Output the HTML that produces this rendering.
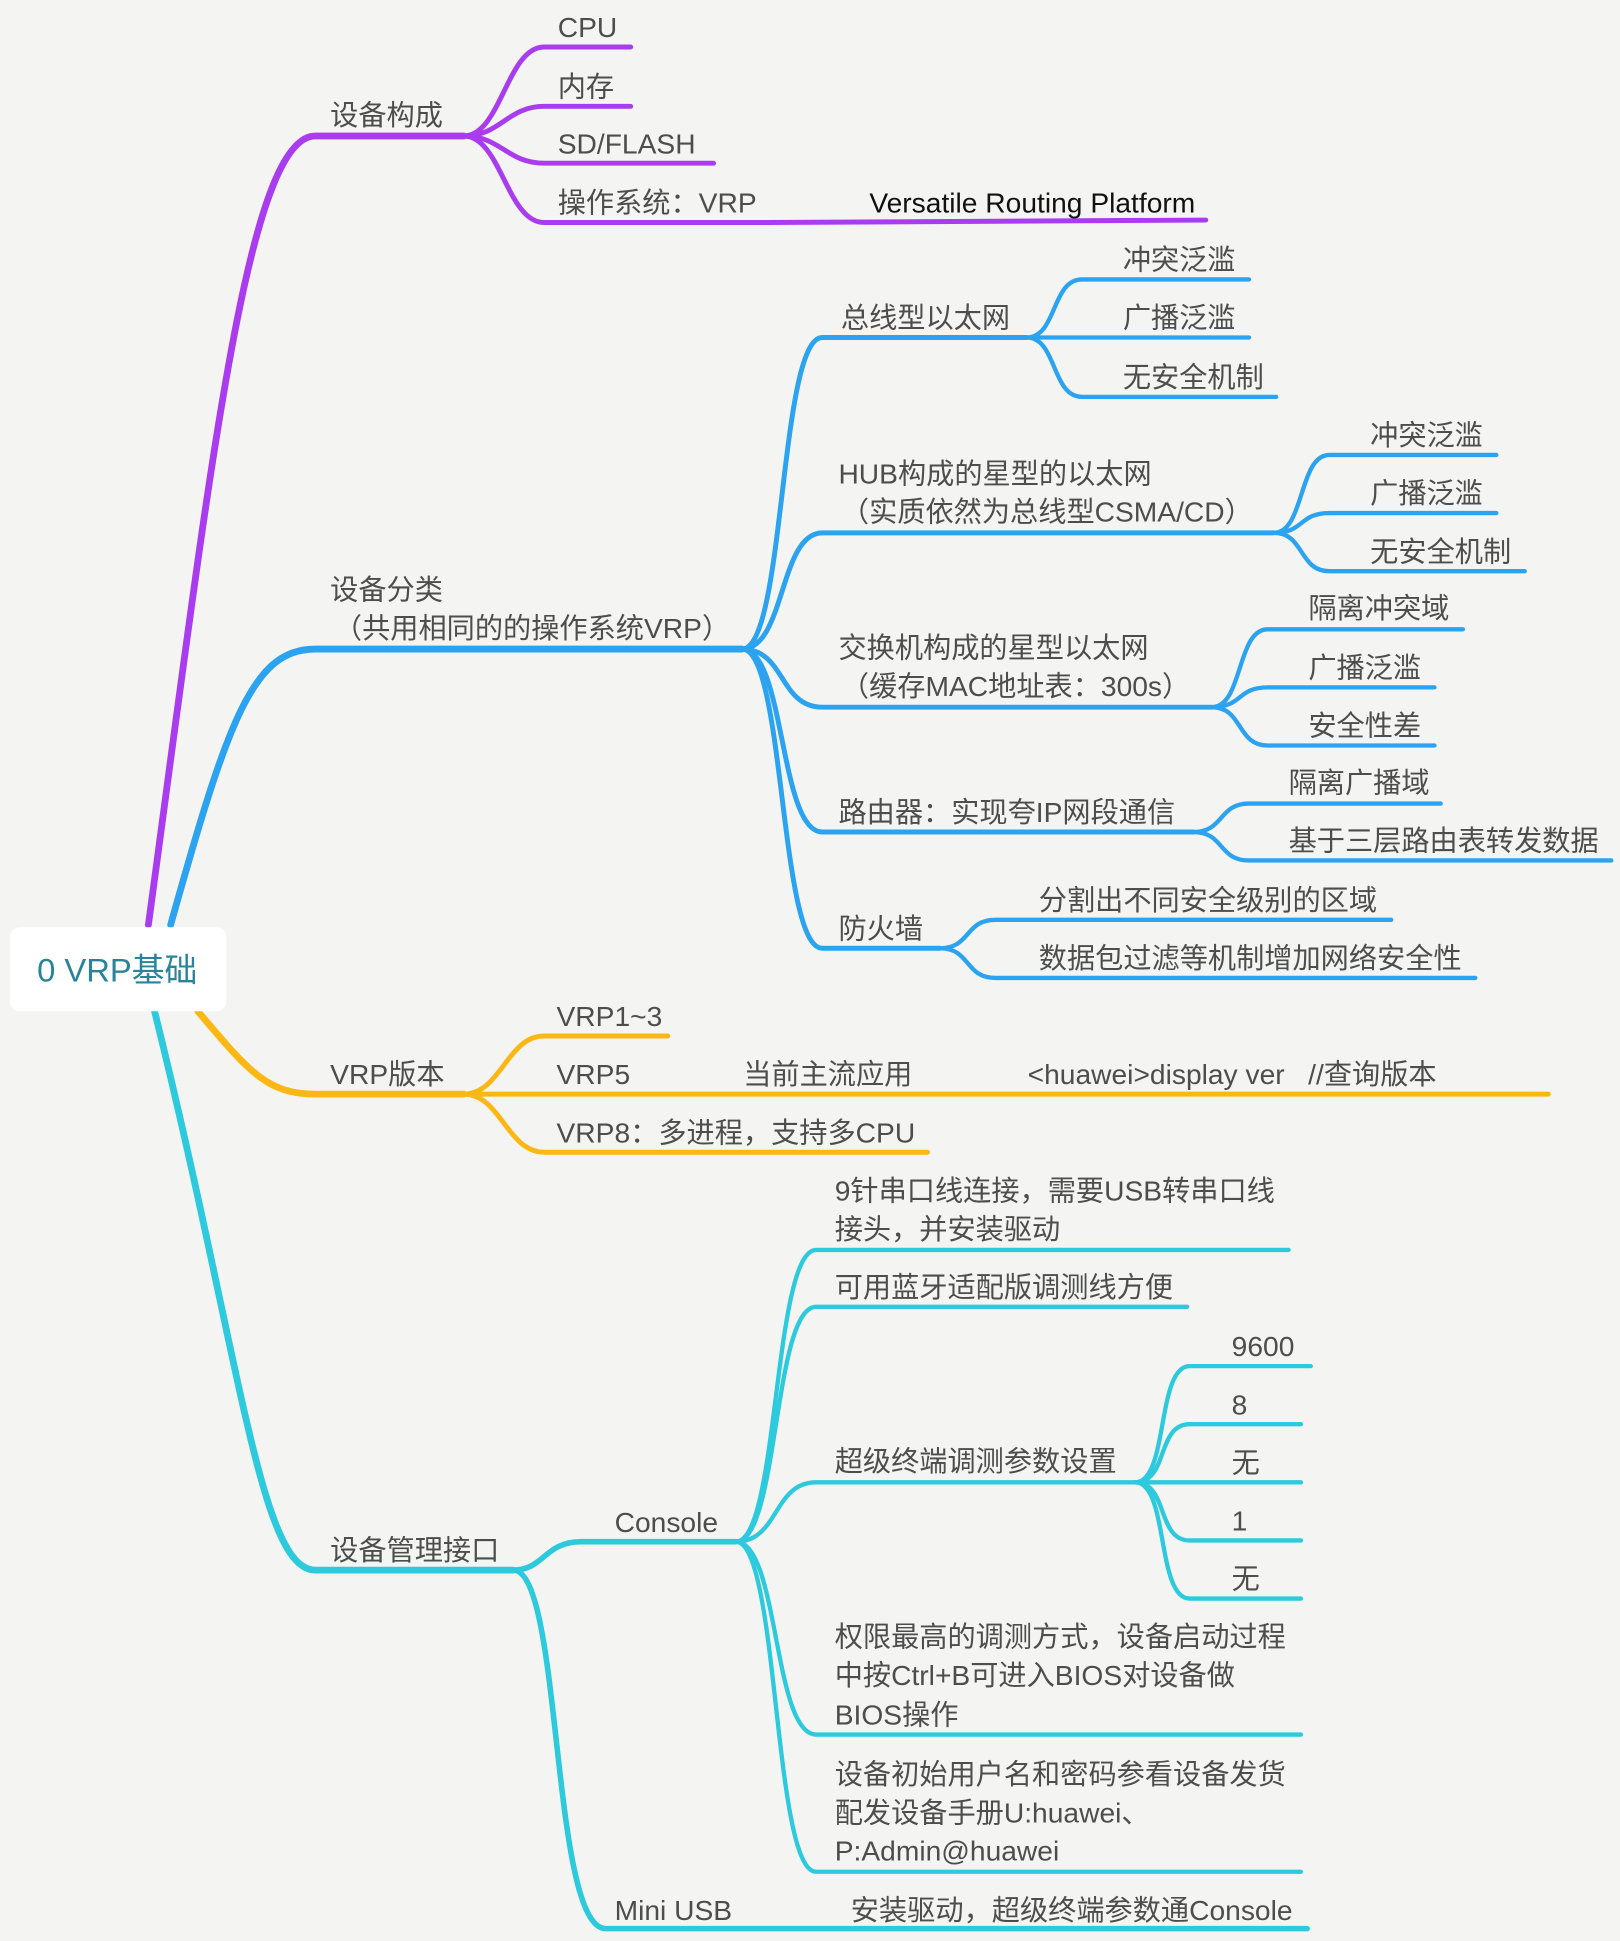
<!DOCTYPE html>
<html><head><meta charset="utf-8"><style>
html,body{margin:0;padding:0;background:#f4f5f3;}
svg{display:block;}
text{font-family:"Liberation Sans","Noto Sans CJK SC",sans-serif;font-size:22.8px;fill:#4d4d4d;}
</style></head><body>
<svg width="1620" height="1941" viewBox="0 0 1310 1570" preserveAspectRatio="none" xmlns="http://www.w3.org/2000/svg">
<rect width="1310" height="1570" fill="#f4f5f3"/>
<g fill="none" stroke-linecap="round">
<g stroke="#a93cef">
<path d="M120,748 C170,380 200,110 255,110 L375,110" stroke-width="5.5"/>
<path d="M375,110 C405,110 410,38 440,38 L510,38" stroke-width="4"/>
<path d="M375,110 C405,110 410,86 440,86 L510,86" stroke-width="4"/>
<path d="M375,110 C405,110 410,132 440,132 L577,132" stroke-width="4"/>
<path d="M375,110 C405,110 410,180 440,180 L620,180 L975,178" stroke-width="4"/>
</g>
<g stroke="#2ba3f0">
<path d="M138,748 C185,580 205,525 255,525 L600,525" stroke-width="5.5"/>
<path d="M600,525 C635,525 630,273 665,273 L830,273" stroke-width="4"/>
<path d="M600,525 C635,525 630,431 665,431 L1030,431" stroke-width="4"/>
<path d="M600,525 C635,525 630,572 665,572 L980,572" stroke-width="4"/>
<path d="M600,525 C635,525 630,673 665,673 L965,673" stroke-width="4"/>
<path d="M600,525 C635,525 630,767 665,767 L760,767" stroke-width="4"/>
<path d="M830,273 C855,273 850,226 875,226 L1010,226" stroke-width="3.5"/>
<path d="M830,273 L1010,273" stroke-width="3.5"/>
<path d="M830,273 C855,273 850,321 875,321 L1032,321" stroke-width="3.5"/>
<path d="M1030,431 C1055,431 1050,368 1075,368 L1210,368" stroke-width="3.5"/>
<path d="M1030,431 C1055,431 1050,415 1075,415 L1210,415" stroke-width="3.5"/>
<path d="M1030,431 C1055,431 1050,462 1075,462 L1233,462" stroke-width="3.5"/>
<path d="M980,572 C1005,572 1000,509 1025,509 L1183,509" stroke-width="3.5"/>
<path d="M980,572 C1005,572 1000,556 1025,556 L1160,556" stroke-width="3.5"/>
<path d="M980,572 C1005,572 1000,603 1025,603 L1160,603" stroke-width="3.5"/>
<path d="M965,673 C990,673 985,650 1010,650 L1165,650" stroke-width="3.5"/>
<path d="M965,673 C990,673 985,696 1010,696 L1303,696" stroke-width="3.5"/>
<path d="M760,767 C785,767 780,744 805,744 L1125,744" stroke-width="3.5"/>
<path d="M760,767 C785,767 780,791 805,791 L1193,791" stroke-width="3.5"/>
</g>
<g stroke="#fbb714">
<path d="M160,818 C200,865 215,885 255,885 L375,885" stroke-width="5.5"/>
<path d="M375,885 C405,885 410,838 440,838 L540,838" stroke-width="4"/>
<path d="M375,885 L1252,885" stroke-width="4"/>
<path d="M375,885 C405,885 410,932 440,932 L750,932" stroke-width="4"/>
</g>
<g stroke="#2ccadc">
<path d="M125,818 C195,1100 210,1270 255,1270 L415,1270" stroke-width="5.5"/>
<path d="M415,1270 C440,1270 440,1247 470,1247 L595,1247" stroke-width="4.5"/>
<path d="M415,1270 C455,1270 445,1560 490,1560 L1057,1560" stroke-width="4.5"/>
<path d="M595,1247 C630,1247 625,1011 660,1011 L1042,1011" stroke-width="3.5"/>
<path d="M595,1247 C630,1247 625,1057 660,1057 L960,1057" stroke-width="3.5"/>
<path d="M595,1247 C630,1247 625,1199 660,1199 L918,1199" stroke-width="3.5"/>
<path d="M595,1247 C630,1247 625,1403 660,1403 L1052,1403" stroke-width="3.5"/>
<path d="M595,1247 C630,1247 625,1514 660,1514 L1052,1514" stroke-width="3.5"/>
<path d="M918,1199 C945,1199 935,1105 962,1105 L1060,1105" stroke-width="3.5"/>
<path d="M918,1199 C945,1199 935,1152 962,1152 L1052,1152" stroke-width="3.5"/>
<path d="M918,1199 L1052,1199" stroke-width="3.5"/>
<path d="M918,1199 C945,1199 935,1246 962,1246 L1052,1246" stroke-width="3.5"/>
<path d="M918,1199 C945,1199 935,1293 962,1293 L1052,1293" stroke-width="3.5"/>
</g>
</g>
<rect x="8" y="750" width="175" height="68" rx="8" fill="#ffffff"/>
<text x="30" y="794" style="font-size:26.5px;fill:#2a8499">0 VRP基础</text>
<text x="267" y="101">设备构成</text>
<text x="451" y="30">CPU</text>
<text x="451" y="78">内存</text>
<text x="451" y="124">SD/FLASH</text>
<text x="451" y="172">操作系统：VRP</text>
<text x="703" y="172" style="fill:#111">Versatile Routing Platform</text>
<text x="267" y="485">设备分类</text>
<text x="270" y="516">（共用相同的的操作系统VRP）</text>
<text x="680" y="265">总线型以太网</text>
<text x="908" y="218">冲突泛滥</text>
<text x="908" y="265">广播泛滥</text>
<text x="908" y="313">无安全机制</text>
<text x="678" y="391">HUB构成的星型的以太网</text>
<text x="680" y="422">（实质依然为总线型CSMA/CD）</text>
<text x="1108" y="360">冲突泛滥</text>
<text x="1108" y="407">广播泛滥</text>
<text x="1108" y="454">无安全机制</text>
<text x="678" y="532">交换机构成的星型以太网</text>
<text x="680" y="563">（缓存MAC地址表：300s）</text>
<text x="1058" y="500">隔离冲突域</text>
<text x="1058" y="548">广播泛滥</text>
<text x="1058" y="595">安全性差</text>
<text x="678" y="665">路由器：实现夸IP网段通信</text>
<text x="1042" y="641">隔离广播域</text>
<text x="1042" y="688">基于三层路由表转发数据</text>
<text x="678" y="759">防火墙</text>
<text x="840" y="736">分割出不同安全级别的区域</text>
<text x="840" y="783">数据包过滤等机制增加网络安全性</text>
<text x="267" y="877">VRP版本</text>
<text x="450" y="830">VRP1~3</text>
<text x="450" y="877">VRP5</text>
<text x="601" y="877">当前主流应用</text>
<text x="831" y="877">&lt;huawei&gt;display ver&#160;&#160;&#160;//查询版本</text>
<text x="450" y="924">VRP8：多进程，支持多CPU</text>
<text x="267" y="1262">设备管理接口</text>
<text x="497" y="1239">Console</text>
<text x="497" y="1553">Mini USB</text>
<text x="688" y="1553">安装驱动，超级终端参数通Console</text>
<text x="675" y="971">9针串口线连接，需要USB转串口线</text>
<text x="675" y="1002">接头，并安装驱动</text>
<text x="675" y="1049">可用蓝牙适配版调测线方便</text>
<text x="675" y="1190">超级终端调测参数设置</text>
<text x="996" y="1097">9600</text>
<text x="996" y="1144">8</text>
<text x="996" y="1191">无</text>
<text x="996" y="1238">1</text>
<text x="996" y="1285">无</text>
<text x="675" y="1332">权限最高的调测方式，设备启动过程</text>
<text x="675" y="1363">中按Ctrl+B可进入BIOS对设备做</text>
<text x="675" y="1395">BIOS操作</text>
<text x="675" y="1443">设备初始用户名和密码参看设备发货</text>
<text x="675" y="1474">配发设备手册U:huawei、</text>
<text x="675" y="1505">P:Admin@huawei</text>
</svg>
</body></html>
